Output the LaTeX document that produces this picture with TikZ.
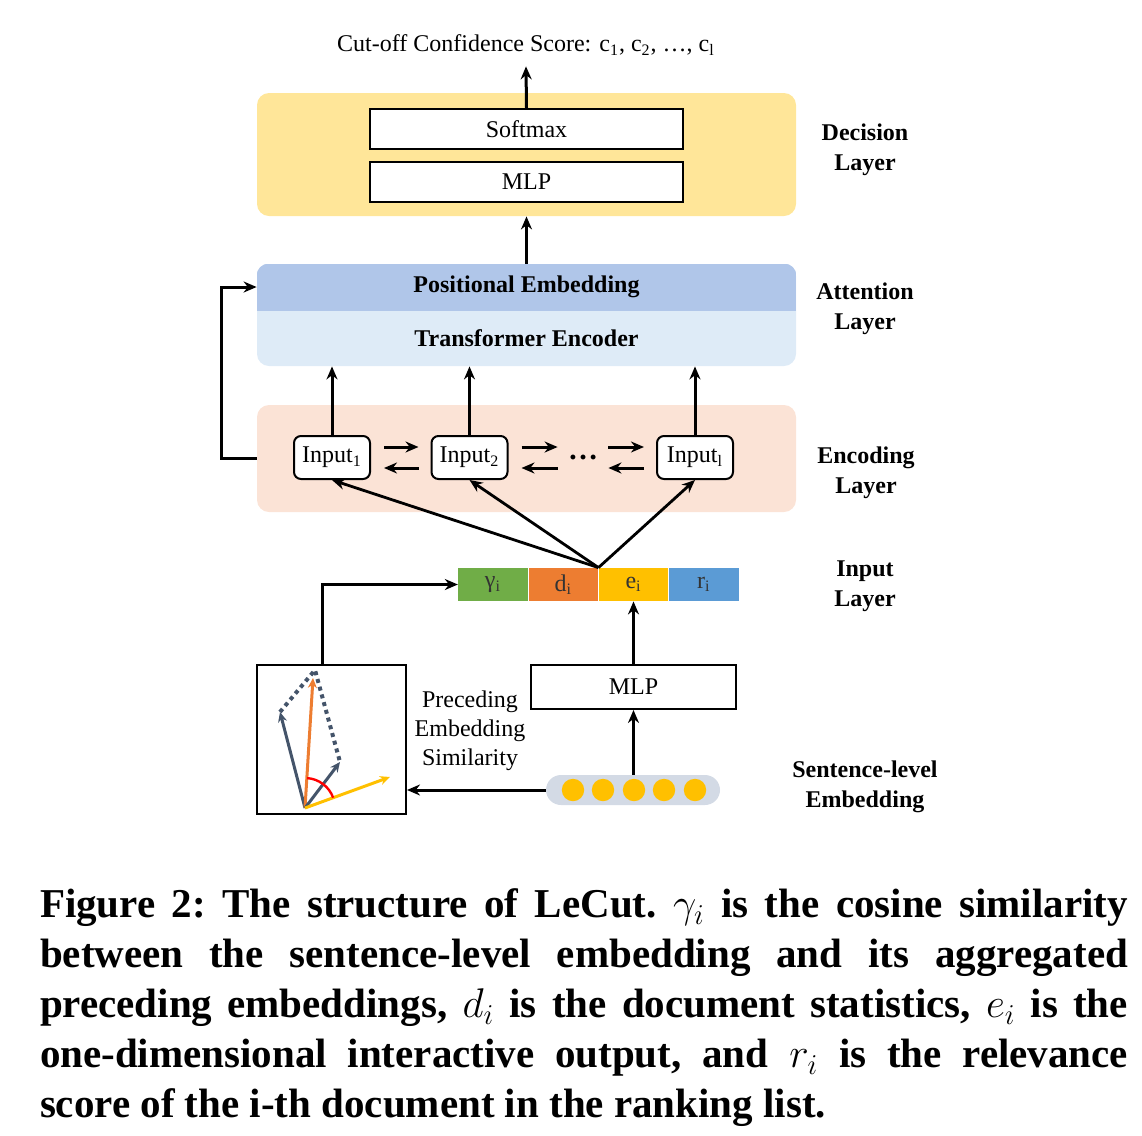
\documentclass[tikz,border=0pt]{standalone}
\usepackage{fontspec}
\setmainfont{Liberation Serif}
\usetikzlibrary{positioning,arrows.meta}
\definecolor{decfill}{HTML}{FFE699}
\definecolor{attdark}{HTML}{B0C6E9}
\definecolor{attlight}{HTML}{DEEBF7}
\definecolor{encfill}{HTML}{FBE3D6}
\definecolor{cgreen}{HTML}{70AD47}
\definecolor{corange}{HTML}{ED7D31}
\definecolor{cyellow}{HTML}{FFC000}
\definecolor{cblue}{HTML}{5B9BD5}
\definecolor{vgray}{HTML}{44546A}
\definecolor{pillgray}{HTML}{D3DAE5}

\begin{document}
\begin{tikzpicture}[x=0.5pt,y=-0.5pt,>={Stealth[length=6.5pt,width=5.5pt]},
  txt/.style={font=\fontsize{12}{14}\selectfont},
  layer/.style={rounded corners=6pt,inner sep=0pt,minimum width=269.5pt},
  wbox/.style={draw,line width=1pt,fill=white,inner sep=0pt,txt},
  inbox/.style={wbox,rounded corners=3.5pt,minimum width=38pt,minimum height=21.5pt},
  seg/.style={inner sep=0pt,minimum width=34.75pt,minimum height=16.5pt,txt,text=black!80},
  lab/.style={align=center,font=\fontsize{12}{15}\selectfont\bfseries},
  flow/.style={->,line width=1.5pt},
  vec/.style={line width=1.5pt,-{Stealth[length=5pt,width=4.5pt]}}]
\useasboundingbox (0,0) rectangle (1142,1136);

% decision layer
\node[layer,fill=decfill,minimum height=61.5pt] (dec) at (526.5,154.5) {};
\node[wbox,minimum width=156.5pt,minimum height=20pt] (soft) at (526.5,129) {Softmax};
\node[wbox,minimum width=156.5pt,minimum height=20pt] (mlp) at (526.5,182) {MLP};
\node[txt] (title) at (526,45) {Cut-off Confidence Score: c\textsubscript{1}, c\textsubscript{2}, \dots, c\textsubscript{l}};
\draw[flow] (soft.north) -- ([yshift=-2pt]title.south);

% attention layer
\node[layer,fill=attlight,minimum height=51pt] (att) at (526.5,315) {};
\begin{scope}
  \clip[rounded corners=6pt] (att.south west) rectangle (att.north east);
  \fill[attdark] (att.north west) rectangle (796,311);
\end{scope}
\node[lab] (pos) at (526.5,287) {Positional Embedding};
\node[lab] (trans) at (526.5,338) {Transformer Encoder};
\draw[flow] (att.north) -- (dec.south);

% encoding layer
\node[layer,fill=encfill,minimum height=53.5pt] (enc) at (526.5,458.5) {};
\node[inbox] (in1) at (332,457.5) {Input\textsubscript{1}};
\node[inbox] (in2) at (469.5,457.5) {Input\textsubscript{2}};
\node[inbox] (inl) at (695,457.5) {Input\textsubscript{l}};
\node[minimum width=25pt,minimum height=21.5pt,inner sep=0pt,font=\fontsize{15}{15}\selectfont\bfseries] (dots) at (583,457.5) {\dots};
\draw[flow] ([xshift=6.5pt,yshift=5.25pt]in1.east) -- ([xshift=-6pt,yshift=5.25pt]in2.west);
\draw[flow] ([xshift=-6pt,yshift=-5.25pt]in2.west) -- ([xshift=6.5pt,yshift=-5.25pt]in1.east);
\draw[flow] ([xshift=6.5pt,yshift=5.25pt]in2.east) -- ([yshift=5.25pt]dots.west);
\draw[flow] ([yshift=-5.25pt]dots.west) -- ([xshift=6.5pt,yshift=-5.25pt]in2.east);
\draw[flow] ([yshift=5.25pt]dots.east) -- ([xshift=-6pt,yshift=5.25pt]inl.west);
\draw[flow] ([xshift=-6pt,yshift=-5.25pt]inl.west) -- ([yshift=-5.25pt]dots.east);
\foreach \n in {in1,in2,inl}
  \draw[flow] (\n.north) -- (\n.north |- att.south);
\draw[flow] (enc.west) -- ++(-17.5pt,0) |- (att.west |- pos);

% input layer
\node[seg,fill=cgreen] (gam) at (493,584.5) {γ\textsubscript{i}};
\node[seg,fill=corange,right=0pt of gam] (doc) {d\textsubscript{i}};
\node[seg,fill=cyellow,right=0pt of doc] (emb) {e\textsubscript{i}};
\node[seg,fill=cblue,right=0pt of emb] (rel) {r\textsubscript{i}};
\foreach \n in {in1,in2,inl}
  \draw[->,line width=1.4pt] (doc.north east) -- (\n.south);

% similarity box
\node[draw,line width=1pt,minimum size=74.5pt,inner sep=0pt] (vbox) at (331.5,739.5) {};
\coordinate (o) at (305,808);
\draw[vgray,dotted,line width=2pt] (280,712) -- (315,670) -- (340,762);
\draw[vec,vgray] (o) -- (280,712);
\draw[vec,corange] (o) -- (313,678);
\draw[vec,vgray] (o) -- (340,762);
\draw[vec,cyellow] (o) -- (390,777);
\draw[red,line width=1.2pt] (o) ++(86:15pt) arc[start angle=86,end angle=20,radius=15pt];
\draw[flow] ([xshift=-4.75pt]vbox.north) |- (gam.west);

\node[align=center,font=\fontsize{12}{14.5}\selectfont] (prec) at (470,731) {Preceding\\Embedding\\Similarity};

% sentence-level embedding
\node[wbox,minimum width=102.5pt,minimum height=22pt] (mlp2) at (633.5,687) {MLP};
\node[fill=pillgray,rounded corners=7.5pt,minimum width=87pt,minimum height=15pt,inner sep=0pt] (sent) at (633,790) {};
\foreach \x in {573,603,634,664,695}
  \fill[cyellow] (\x,790) circle (5.6pt);
\draw[flow] (mlp2.north) -- (mlp2.north |- emb.south);
\draw[flow] (sent.north -| mlp2.south) -- (mlp2.south);
\draw[flow] (sent.west) -- (sent.west -| vbox.east);

% layer names
\node[lab] (labdec) at (865,150) {Decision\\Layer};
\node[lab] (labatt) at (865,309) {Attention\\Layer};
\node[lab] (labenc) at (866,472.5) {Encoding\\Layer};
\node[lab] (labinp) at (865,586) {Input\\Layer};
\node[lab] (labsent) at (865,787) {Sentence-level\\Embedding};

% caption
\node[text width=544pt,align=justify,inner sep=0pt,font=\fontsize{20.5}{25}\selectfont\bfseries] (cap) at (584,1008)
  {\frenchspacing\hyphenpenalty=10000\relax Figure 2: The structure of LeCut. $\gamma_i$ is the cosine similarity\linebreak{} between the sentence-level embedding and its aggregated\linebreak{} preceding embeddings, $d_i$ is the document statistics, $e_i$ is the\linebreak{} one-dimensional interactive output, and $r_i$ is the relevance\linebreak{} score of the i-th document in the ranking list.};
\end{tikzpicture}
\end{document}
